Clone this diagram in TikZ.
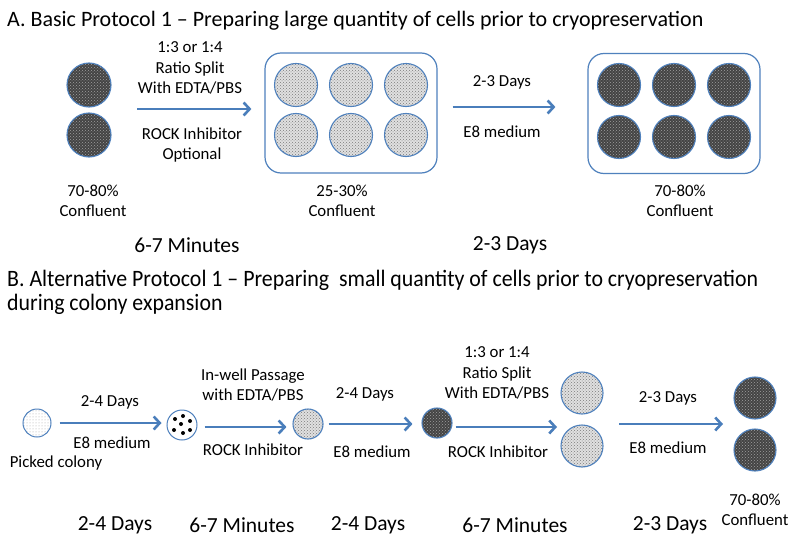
\documentclass[tikz,border=0pt]{standalone}
\usepackage{fontspec}
\setmainfont{Carlito}
\usetikzlibrary{arrows.meta,patterns,calc}
\definecolor{arrowblue}{HTML}{4A7EBB}
\definecolor{ringblue}{HTML}{4F81BD}
\definecolor{darkfill}{HTML}{444444}
\definecolor{darkdot}{HTML}{A0A0A0}
\definecolor{lightfill}{HTML}{E0E0E0}
\definecolor{lightdot}{HTML}{7A7A7A}
\tikzset{
  arr/.style={draw=arrowblue, line width=2.6pt, -{Straight Barb[length=6pt,width=13pt]}},
  darkwell/.style={circle, draw=ringblue, line width=1.1pt, minimum size=#1, inner sep=0pt,
     preaction={fill=darkfill}, pattern=crosshatch dots, pattern color=darkdot},
  lightwell/.style={circle, draw=ringblue, line width=1.1pt, minimum size=#1, inner sep=0pt,
     preaction={fill=lightfill}, pattern=crosshatch dots, pattern color=lightdot},
  plate/.style={draw=ringblue, line width=1.2pt, rounded corners=16pt, minimum width=172pt, minimum height=120pt},
  lbl/.style={font=\fontsize{16.8}{20.3}\selectfont, align=center, inner sep=0pt},
  big/.style={font=\fontsize{21.5}{24}\selectfont, inner sep=0pt},
  ttl/.style={font=\fontsize{22}{26}\selectfont, anchor=base west, inner sep=0pt},
  ttlb/.style={font=\fontsize{23.5}{26}\selectfont, anchor=base west, inner sep=0pt},
  blackdot/.style={circle, fill=black, inner sep=0pt, minimum size=4pt},
}
\begin{document}
\begin{tikzpicture}[x=1pt,y=-1pt]
\useasboundingbox (0,0) rectangle (800,543);
\fill[white] (0,0) rectangle (800,543);

% ---------- Section A ----------
\node[ttl] (titleA) at (7,27) {A. Basic Protocol 1 – Preparing large quantity of cells prior to cryopreservation};

\node[darkwell=44pt] (a0a) at (89,85) {};
\node[darkwell=44pt] (a0b) at (89,135) {};
\node[lbl] (a0t) at (93,201) {70-80\%\\Confluent};

\node[plate] (box1) at (351,113) {};
\foreach \i/\x in {1/296,2/351,3/406}{
  \node[lightwell=43pt] (b1u\i) at (\x,85) {};
  \node[lightwell=43pt] (b1d\i) at (\x,135) {};
}
\node[lbl] (b1t) at (342,201) {25-30\%\\Confluent};

\node[plate] (box2) at (674,113.5) {};
\foreach \i/\x in {1/619,2/674,3/729}{
  \node[darkwell=43pt] (b2u\i) at (\x,85) {};
  \node[darkwell=43pt] (b2d\i) at (\x,137) {};
}
\node[lbl] (b2t) at (680,201) {70-80\%\\Confluent};

\coordinate (aS1) at (137,109);
\draw[arr, shorten >=13pt] (aS1) -- (box1.west |- aS1);
\node[lbl] (aA1) at (190,68) {1:3 or 1:4\\Ratio Split\\With EDTA/PBS};
\node[lbl] (aB1) at (192,145) {ROCK Inhibitor\\Optional};

\coordinate (aY2) at (0,107);
\draw[arr, shorten <=15pt, shorten >=32pt] (box1.east |- aY2) -- (box2.west |- aY2);
\node[lbl] (aA2) at (502,82) {2-3 Days};
\node[lbl] (aB2) at (502,132) {E8 medium};

\node[big] (aT1) at (187,245) {6-7 Minutes};
\node[big] (aT2) at (510,245) {2-3 Days};

% ---------- Section B ----------
\node[ttlb] (titleB) at (7,286) {\scalebox{0.93}[1]{B. Alternative Protocol 1 – Preparing\ \ small quantity of cells prior to cryopreservation}};
\node[ttlb] (titleB2) at (7,310) {\scalebox{0.93}[1]{during colony expansion}};

% picked colony
\node[circle, draw=ringblue, line width=1pt, minimum size=28pt, inner sep=0pt,
      pattern=dots, pattern color=gray!70] (pc) at (37,423) {};
\node[lbl] (pct) at (56,463) {Picked colony};

% colony with dots
\node[circle, draw=ringblue, line width=1pt, fill=white, minimum size=30pt, inner sep=0pt] (c2) at (182,425) {};
\foreach \dx/\dy [count=\k] in {-7/-6, 1/-9, 8/-4, -1/-1, -8/5, 1/8, 8/5}{
  \node[blackdot] (c2d\k) at ($(c2.center)+(\dx,\dy)$) {};
}

\node[lightwell=30pt] (c3) at (308,424) {};
\node[darkwell=30pt] (c4) at (437,423) {};
\node[lightwell=42pt] (c5a) at (582,393) {};
\node[lightwell=42pt] (c5b) at (582,446) {};
\node[darkwell=42pt] (c6a) at (755,398) {};
\node[darkwell=42pt] (c6b) at (755,450) {};
\node[lbl] (c6t) at (755,510) {70-80\%\\Confluent};

\draw[arr, shorten <=8pt, shorten >=5pt] (pc.east) -- (c2.west |- pc.east);
\node[lbl] (bA1) at (110,402) {2-4 Days};
\node[lbl] (bB1) at (112,443) {E8 medium};

\coordinate (bY2) at (0,427);
\draw[arr, shorten <=7pt, shorten >=6pt] (c2.east |- bY2) -- (c3.west |- bY2);
\node[lbl] (bA2) at (253,385) {In-well Passage\\with EDTA/PBS};
\node[lbl] (bB2) at (253,450) {ROCK Inhibitor};

\coordinate (bY3) at (0,424);
\draw[arr, shorten <=5pt, shorten >=9pt] (c3.east |- bY3) -- (c4.west |- bY3);
\node[lbl] (bA3) at (365,394) {2-4 Days};
\node[lbl] (bB3) at (372,452) {E8 medium};

\coordinate (bE4) at (557,427);
\draw[arr, shorten <=3pt] (c4.east |- bE4) -- (bE4);
\node[lbl] (bA4) at (497,373) {1:3 or 1:4\\Ratio Split\\With EDTA/PBS};
\node[lbl] (bB4) at (498,452) {ROCK Inhibitor};

\coordinate (bS5) at (619,424);
\coordinate (bE5) at (723,424);
\draw[arr] (bS5) -- (bE5);
\node[lbl] (bA5) at (668,398) {2-3 Days};
\node[lbl] (bB5) at (668,448) {E8 medium};

\node[big] (bT1) at (115,525) {2-4 Days};
\node[big] (bT2) at (242,525) {6-7 Minutes};
\node[big] (bT3) at (368,525) {2-4 Days};
\node[big] (bT4) at (515,525) {6-7 Minutes};
\node[big] (bT5) at (670,525) {2-3 Days};
\end{tikzpicture}
\end{document}
